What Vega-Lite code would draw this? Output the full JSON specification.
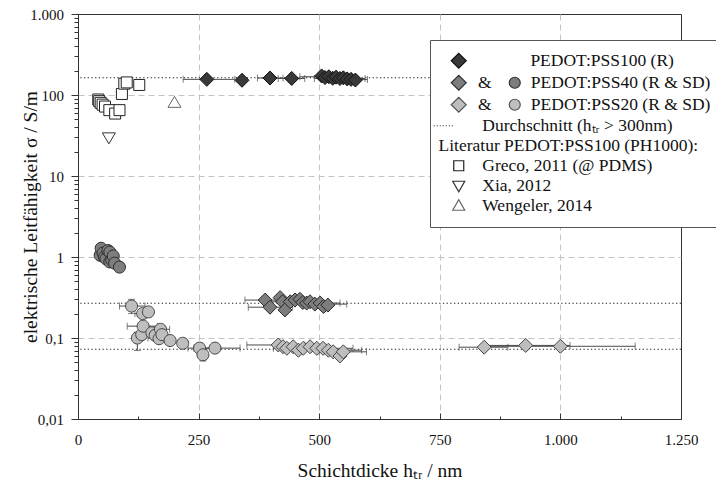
{
  "$schema": "https://vega.github.io/schema/vega-lite/v6.json",
  "width": 603,
  "height": 405,
  "autosize": "none",
  "padding": {"left": 78, "top": 14, "right": 35, "bottom": 62},
  "background": "#ffffff",
  "datasets": {
    "avg": [
      {"key": "PSS100", "y": 163},
      {"key": "PSS40", "y": 0.268},
      {"key": "PSS20", "y": 0.0725}
    ],
    "xerr": [
      {"y": 156, "xlo": 218, "xhi": 325},
      {"y": 162, "xlo": 372, "xhi": 425},
      {"y": 160, "xlo": 415, "xhi": 470},
      {"y": 168, "xlo": 460, "xhi": 555},
      {"y": 160, "xlo": 490, "xhi": 595},
      {"y": 155, "xlo": 520, "xhi": 600},
      {"y": 0.294, "xlo": 346, "xhi": 430},
      {"y": 0.24, "xlo": 353, "xhi": 445},
      {"y": 0.28, "xlo": 395, "xhi": 485},
      {"y": 0.27, "xlo": 440, "xhi": 543},
      {"y": 0.262, "xlo": 450, "xhi": 557},
      {"y": 0.082, "xlo": 350, "xhi": 470},
      {"y": 0.0746, "xlo": 405, "xhi": 480},
      {"y": 0.0746, "xlo": 445, "xhi": 570},
      {"y": 0.0706, "xlo": 460, "xhi": 588},
      {"y": 0.0675, "xlo": 500, "xhi": 598},
      {"y": 0.077, "xlo": 790, "xhi": 891},
      {"y": 0.081, "xlo": 840, "xhi": 1020},
      {"y": 0.079, "xlo": 845, "xhi": 1155},
      {"y": 0.248, "xlo": 86, "xhi": 139},
      {"y": 0.14, "xlo": 102, "xhi": 165},
      {"y": 0.2, "xlo": 118, "xhi": 150},
      {"y": 0.075, "xlo": 240, "xhi": 336},
      {"y": 0.075, "xlo": 228, "xhi": 275},
      {"y": 0.128, "xlo": 150, "xhi": 190},
      {"y": 0.1, "xlo": 145, "xhi": 190},
      {"y": 1.0, "xlo": 45, "xhi": 68},
      {"y": 0.92, "xlo": 60, "xhi": 80}
    ],
    "yerr": [
      {"x": 111, "ylo": 0.2, "yhi": 0.3},
      {"x": 123, "ylo": 0.07, "yhi": 0.118},
      {"x": 259, "ylo": 0.052, "yhi": 0.073},
      {"x": 134, "ylo": 0.175, "yhi": 0.23},
      {"x": 146, "ylo": 0.19, "yhi": 0.235},
      {"x": 160, "ylo": 0.095, "yhi": 0.125},
      {"x": 66, "ylo": 0.78, "yhi": 0.97},
      {"x": 52, "ylo": 1.0, "yhi": 1.25}
    ],
    "pts": [
      {"key": "PSS40SD", "x": 46, "y": 1.05},
      {"key": "PSS40SD", "x": 48, "y": 1.28},
      {"key": "PSS40SD", "x": 52, "y": 1.12},
      {"key": "PSS40SD", "x": 55, "y": 1.0},
      {"key": "PSS40SD", "x": 58, "y": 0.95},
      {"key": "PSS40SD", "x": 62, "y": 1.2},
      {"key": "PSS40SD", "x": 66, "y": 1.15},
      {"key": "PSS40SD", "x": 66, "y": 0.87},
      {"key": "PSS40SD", "x": 70, "y": 0.92},
      {"key": "PSS40SD", "x": 73, "y": 1.03},
      {"key": "PSS40SD", "x": 76, "y": 0.84},
      {"key": "PSS40SD", "x": 86, "y": 0.75},
      {"key": "PSS20SD", "x": 111, "y": 0.248},
      {"key": "PSS20SD", "x": 123, "y": 0.1},
      {"key": "PSS20SD", "x": 132, "y": 0.11},
      {"key": "PSS20SD", "x": 135, "y": 0.14},
      {"key": "PSS20SD", "x": 134, "y": 0.2},
      {"key": "PSS20SD", "x": 146, "y": 0.21},
      {"key": "PSS20SD", "x": 153, "y": 0.116},
      {"key": "PSS20SD", "x": 160, "y": 0.108},
      {"key": "PSS20SD", "x": 168, "y": 0.098},
      {"key": "PSS20SD", "x": 171, "y": 0.128},
      {"key": "PSS20SD", "x": 174, "y": 0.11},
      {"key": "PSS20SD", "x": 191, "y": 0.093},
      {"key": "PSS20SD", "x": 217, "y": 0.086},
      {"key": "PSS20SD", "x": 252, "y": 0.075},
      {"key": "PSS20SD", "x": 259, "y": 0.062},
      {"key": "PSS20SD", "x": 284, "y": 0.075},
      {"key": "PSS100", "x": 267, "y": 156},
      {"key": "PSS100", "x": 340, "y": 152},
      {"key": "PSS100", "x": 398, "y": 162},
      {"key": "PSS100", "x": 443, "y": 160},
      {"key": "PSS100", "x": 505, "y": 172},
      {"key": "PSS100", "x": 512, "y": 164},
      {"key": "PSS100", "x": 520, "y": 168},
      {"key": "PSS100", "x": 528, "y": 161},
      {"key": "PSS100", "x": 535, "y": 166},
      {"key": "PSS100", "x": 543, "y": 160},
      {"key": "PSS100", "x": 550, "y": 163},
      {"key": "PSS100", "x": 558, "y": 158},
      {"key": "PSS100", "x": 566, "y": 156},
      {"key": "PSS100", "x": 575, "y": 153},
      {"key": "PSS40R", "x": 388, "y": 0.294},
      {"key": "PSS40R", "x": 398, "y": 0.24},
      {"key": "PSS40R", "x": 419, "y": 0.315},
      {"key": "PSS40R", "x": 424, "y": 0.28},
      {"key": "PSS40R", "x": 429, "y": 0.222},
      {"key": "PSS40R", "x": 440, "y": 0.28},
      {"key": "PSS40R", "x": 450, "y": 0.295},
      {"key": "PSS40R", "x": 460, "y": 0.3},
      {"key": "PSS40R", "x": 466, "y": 0.275},
      {"key": "PSS40R", "x": 474, "y": 0.27},
      {"key": "PSS40R", "x": 481, "y": 0.28},
      {"key": "PSS40R", "x": 491, "y": 0.262},
      {"key": "PSS40R", "x": 502, "y": 0.27},
      {"key": "PSS40R", "x": 509, "y": 0.245},
      {"key": "PSS40R", "x": 518, "y": 0.255},
      {"key": "PSS20R", "x": 415, "y": 0.082},
      {"key": "PSS20R", "x": 425, "y": 0.078},
      {"key": "PSS20R", "x": 433, "y": 0.0746},
      {"key": "PSS20R", "x": 446, "y": 0.078},
      {"key": "PSS20R", "x": 457, "y": 0.0706},
      {"key": "PSS20R", "x": 467, "y": 0.0746},
      {"key": "PSS20R", "x": 481, "y": 0.078},
      {"key": "PSS20R", "x": 495, "y": 0.0746},
      {"key": "PSS20R", "x": 508, "y": 0.0746},
      {"key": "PSS20R", "x": 519, "y": 0.0706},
      {"key": "PSS20R", "x": 529, "y": 0.0675},
      {"key": "PSS20R", "x": 543, "y": 0.06},
      {"key": "PSS20R", "x": 550, "y": 0.0675},
      {"key": "PSS20R", "x": 842, "y": 0.077},
      {"key": "PSS20R", "x": 928, "y": 0.081},
      {"key": "PSS20R", "x": 1000, "y": 0.079},
      {"key": "Greco", "x": 42, "y": 88},
      {"key": "Greco", "x": 44, "y": 84},
      {"key": "Greco", "x": 47, "y": 80},
      {"key": "Greco", "x": 51, "y": 76},
      {"key": "Greco", "x": 56, "y": 72},
      {"key": "Greco", "x": 65, "y": 65},
      {"key": "Greco", "x": 77, "y": 59},
      {"key": "Greco", "x": 86, "y": 65},
      {"key": "Greco", "x": 91, "y": 103},
      {"key": "Greco", "x": 96, "y": 138},
      {"key": "Greco", "x": 101, "y": 143},
      {"key": "Greco", "x": 127, "y": 133},
      {"key": "Xia", "x": 64, "y": 30},
      {"key": "Wengeler", "x": 200, "y": 80}
    ]
  },
  "layer": [
    {
      "data": {"name": "avg"},
      "mark": {"type": "rule", "color": "#222222", "strokeWidth": 1.1, "strokeDash": [1.3, 2.4]},
      "encoding": {
        "y": {"field": "y", "type": "quantitative", "scale": {"type": "log"}, "title": "elektrische Leitfähigkeit σ / S/m"}
      }
    },
    {
      "data": {"name": "xerr"},
      "mark": {"type": "errorbar", "color": "#4a4a4a", "thickness": 1, "ticks": {"size": 7}},
      "encoding": {
        "x": {"field": "xlo", "type": "quantitative", "title": "Schichtdicke hₜᵣ / nm"},
        "x2": {"field": "xhi"},
        "y": {"field": "y", "type": "quantitative", "scale": {"type": "log"}, "title": "elektrische Leitfähigkeit σ / S/m"}
      }
    },
    {
      "data": {"name": "yerr"},
      "mark": {"type": "errorbar", "color": "#4a4a4a", "thickness": 1, "ticks": {"size": 7}},
      "encoding": {
        "y": {"field": "ylo", "type": "quantitative", "scale": {"type": "log"}, "title": "elektrische Leitfähigkeit σ / S/m"},
        "y2": {"field": "yhi"},
        "x": {"field": "x", "type": "quantitative", "title": "Schichtdicke hₜᵣ / nm"}
      }
    },
    {
      "data": {"name": "pts"},
      "mark": {"type": "point", "filled": true, "opacity": 1, "size": 4, "strokeWidth": 1},
      "encoding": {
        "x": {
          "field": "x",
          "type": "quantitative",
          "title": "Schichtdicke hₜᵣ / nm",
          "scale": {"domain": [0, 1250], "nice": false, "zero": false},
          "axis": {
            "values": [0, 125, 250, 375, 500, 625, 750, 875, 1000, 1125, 1250],
            "labelExpr": "datum.value % 250 === 0 ? replace(format(datum.value, ','), ',', '.') : ''",
            "tickSize": {"condition": {"test": "datum.value % 250 === 0", "value": -6}, "value": -3},
            "labelPadding": 19.5,
            "labelFlush": false,
            "labelOverlap": false,
            "grid": true,
            "gridOpacity": {"condition": {"test": "datum.value % 250 === 0 && datum.value > 0 && datum.value < 1250", "value": 1}, "value": 0},
            "titleX": 301.5,
            "titleY": 57,
            "titleAlign": "center",
            "titleBaseline": "alphabetic"
          }
        },
        "y": {
          "field": "y",
          "type": "quantitative",
          "title": "elektrische Leitfähigkeit σ / S/m",
          "scale": {"type": "log", "domain": [0.01, 1000], "nice": false},
          "axis": {
            "values": [0.01, 0.02, 0.03, 0.04, 0.05, 0.06, 0.07, 0.08, 0.09, 0.1, 0.2, 0.3, 0.4, 0.5, 0.6, 0.7, 0.8, 0.9, 1, 2, 3, 4, 5, 6, 7, 8, 9, 10, 20, 30, 40, 50, 60, 70, 80, 90, 100, 200, 300, 400, 500, 600, 700, 800, 900, 1000],
            "labelExpr": "datum.value === 1000 ? '1.000' : datum.value === 100 ? '100' : datum.value === 10 ? '10' : datum.value === 1 ? '1' : datum.value === 0.1 ? '0,1' : datum.value === 0.01 ? '0,01' : ''",
            "tickSize": {"condition": {"test": "indexof([0.01, 0.1, 1, 10, 100, 1000], datum.value) >= 0", "value": 7}, "value": 4},
            "labelPadding": 7.5,
            "labelFlush": false,
            "labelOverlap": false,
            "grid": true,
            "gridOpacity": {"condition": {"test": "indexof([0.1, 1, 10, 100], datum.value) >= 0", "value": 1}, "value": 0},
            "titleX": -48,
            "titleY": 202.5,
            "titleAngle": 270,
            "titleAlign": "center",
            "titleBaseline": "middle"
          }
        },
        "shape": {
          "field": "key",
          "type": "nominal",
          "scale": {
            "domain": ["PSS100", "PSS40R", "PSS40SD", "PSS20R", "PSS20SD", "Greco", "Xia", "Wengeler", "L100", "L40", "L20", "Lavg", "Llit", "LGreco", "LXia", "LWengeler"],
            "range": [
              "M-7,0L0,-7L7,0L0,7Z",
              "M-7,0L0,-7L7,0L0,7Z",
              "M-6,0A6,6 0 1,1 6,0A6,6 0 1,1 -6,0Z",
              "M-7,0L0,-7L7,0L0,7Z",
              "M-6,0A6,6 0 1,1 6,0A6,6 0 1,1 -6,0Z",
              "M-5.5,-5.5H5.5V5.5H-5.5Z",
              "M-6.5,-4.5H6.5L0,6.5Z",
              "M-6.5,4.5H6.5L0,-6.5Z",
              "M0.5,0L8,-7.5L15.5,0L8,7.5Z",
              "M0.5,0L8,-7.5L15.5,0L8,7.5ZM58.5,0A5.5,5.5 0 1,1 69.5,0A5.5,5.5 0 1,1 58.5,0Z",
              "M0.5,0L8,-7.5L15.5,0L8,7.5ZM58.5,0A5.5,5.5 0 1,1 69.5,0A5.5,5.5 0 1,1 58.5,0Z",
              "M-17,0H-16M-14,0H-13M-11,0H-10M-8,0H-7M-5,0H-4M-2,0H-1M1,0H2",
              "M0,0Z",
              "M3,-5H13V5H3Z",
              "M2,-4.5H14L8,6Z",
              "M2,4.5H14L8,-6Z"
            ]
          },
          "legend": {
            "values": ["L100", "L40", "L20", "Lavg", "Llit", "LGreco", "LXia", "LWengeler"],
            "orient": "none",
            "legendX": 352,
            "legendY": 26,
            "title": null,
            "labelExpr": "datum.value === 'L100' ? '\u200b\u00a0\u00a0\u00a0\u00a0\u00a0\u00a0\u00a0\u00a0\u00a0\u00a0\u00a0\u00a0\u00a0\u00a0\u00a0\u00a0\u00a0\u00a0\u00a0\u00a0\u00a0PEDOT:PSS100 (R)' : datum.value === 'L40' ? '\u200b\u00a0\u00a0\u00a0\u00a0\u00a0\u00a0\u00a0\u00a0\u00a0&\u00a0\u00a0\u00a0\u00a0\u00a0\u00a0\u00a0\u00a0\u00a0PEDOT:PSS40 (R & SD)' : datum.value === 'L20' ? '\u200b\u00a0\u00a0\u00a0\u00a0\u00a0\u00a0\u00a0\u00a0\u00a0&\u00a0\u00a0\u00a0\u00a0\u00a0\u00a0\u00a0\u00a0\u00a0PEDOT:PSS20 (R & SD)' : datum.value === 'Lavg' ? '\u200b\u00a0\u00a0\u00a0\u00a0\u00a0\u00a0\u00a0\u00a0\u00a0\u00a0Durchschnitt (hₜᵣ > 300nm)' : datum.value === 'Llit' ? 'Literatur PEDOT:PSS100 (PH1000):' : datum.value === 'LGreco' ? '\u200b\u00a0\u00a0\u00a0\u00a0\u00a0\u00a0\u00a0\u00a0\u00a0\u00a0Greco, 2011 (@ PDMS)' : datum.value === 'LXia' ? '\u200b\u00a0\u00a0\u00a0\u00a0\u00a0\u00a0\u00a0\u00a0\u00a0\u00a0Xia, 2012' : '\u200b\u00a0\u00a0\u00a0\u00a0\u00a0\u00a0\u00a0\u00a0\u00a0\u00a0Wengeler, 2014'"
          }
        },
        "fill": {
          "field": "key",
          "type": "nominal",
          "scale": {
            "domain": ["PSS100", "PSS40R", "PSS40SD", "PSS20R", "PSS20SD", "Greco", "Xia", "Wengeler", "L100", "L40", "L20", "Lavg", "Llit", "LGreco", "LXia", "LWengeler"],
            "range": ["#393939", "#7d7d7d", "#7d7d7d", "#bebebe", "#bebebe", "#ffffff", "#ffffff", "#ffffff", "#393939", "#7d7d7d", "#bebebe", "transparent", "transparent", "#ffffff", "#ffffff", "#ffffff"]
          },
          "legend": {
            "values": ["L100", "L40", "L20", "Lavg", "Llit", "LGreco", "LXia", "LWengeler"],
            "orient": "none",
            "legendX": 352,
            "legendY": 26,
            "title": null
          }
        },
        "stroke": {
          "field": "key",
          "type": "nominal",
          "scale": {
            "domain": ["PSS100", "PSS40R", "PSS40SD", "PSS20R", "PSS20SD", "Greco", "Xia", "Wengeler", "L100", "L40", "L20", "Lavg", "Llit", "LGreco", "LXia", "LWengeler"],
            "range": ["#111111", "#2a2a2a", "#2a2a2a", "#444444", "#444444", "#222222", "#333333", "#666666", "#111111", "#333333", "#555555", "#222222", "transparent", "#222222", "#333333", "#666666"]
          },
          "legend": {
            "values": ["L100", "L40", "L20", "Lavg", "Llit", "LGreco", "LXia", "LWengeler"],
            "orient": "none",
            "legendX": 352,
            "legendY": 26,
            "title": null
          }
        }
      }
    }
  ],
  "config": {
    "font": "Liberation Serif",
    "view": {"stroke": "#333333", "strokeWidth": 1},
    "axis": {
      "domainColor": "#333333",
      "tickColor": "#333333",
      "labelColor": "#111111",
      "titleColor": "#111111",
      "labelFont": "Liberation Serif",
      "titleFont": "Liberation Serif",
      "labelFontSize": 15,
      "titleFontSize": 19.5,
      "titleFontWeight": "normal",
      "gridColor": "#c4c4c4",
      "gridDash": [6, 4],
      "gridWidth": 1
    },
    "legend": {
      "padding": 12,
      "strokeColor": "#555555",
      "fillColor": "#ffffff",
      "labelFont": "Liberation Serif",
      "labelFontSize": 17.5,
      "labelColor": "#111111",
      "labelLimit": 400,
      "symbolSize": 4,
      "symbolStrokeWidth": 1.2,
      "rowPadding": 1,
      "labelOffset": -21,
      "symbolOffset": 0
    }
  }
}
